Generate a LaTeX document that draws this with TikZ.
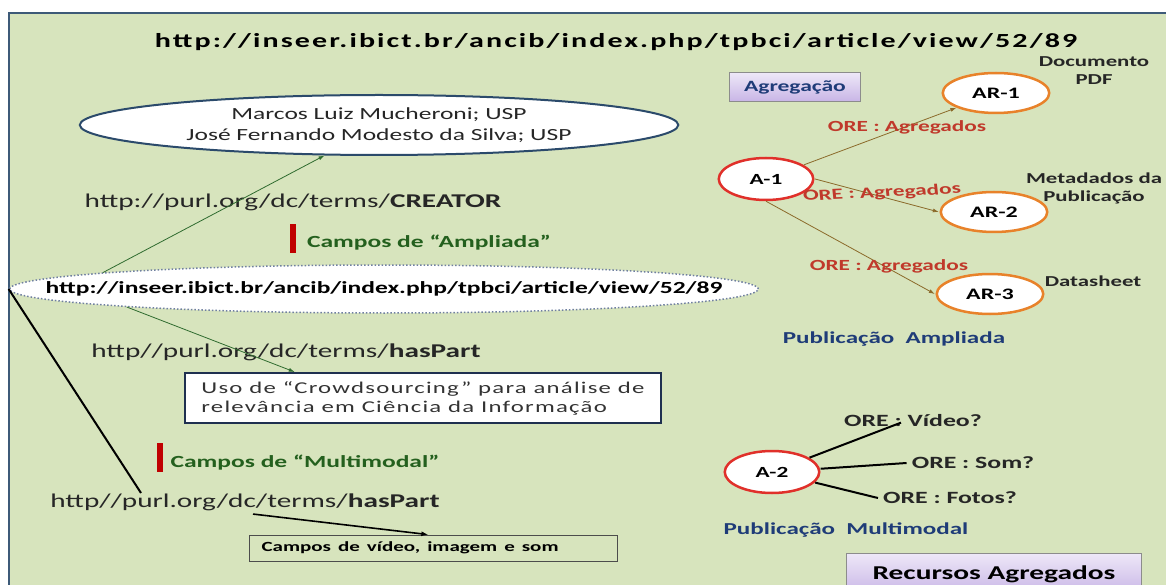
\documentclass[tikz,border=0pt]{standalone}
\usepackage{fontspec}
\setmainfont{Carlito}
\usetikzlibrary{shapes.geometric,arrows.meta}

\definecolor{fundo}{HTML}{D7E4BD}
\definecolor{moldura}{HTML}{3D5A78}
\definecolor{azulesc}{HTML}{2B4A6B}
\definecolor{pontilhado}{HTML}{7080A0}
\definecolor{verdeseta}{HTML}{2F6B2F}
\definecolor{barra}{HTML}{C00000}
\definecolor{verdetxt}{HTML}{24601E}
\definecolor{vermelho}{HTML}{E0302A}
\definecolor{laranja}{HTML}{E8822A}
\definecolor{marrom}{HTML}{8B6A2A}
\definecolor{orered}{HTML}{C0392B}
\definecolor{azultxt}{HTML}{1F3C78}
\definecolor{roxoA}{HTML}{EEE8F8}
\definecolor{roxoB}{HTML}{C8B5E6}
\definecolor{caixaborda}{HTML}{1F3050}

\tikzset{
  wide/.style={xscale=1.5},
  titulo/.style={wide, font=\bfseries\fontsize{20}{24}\selectfont\addfontfeature{LetterSpace=7}},
  autores/.style={wide, ellipse, draw=azulesc, line width=2pt, fill=white, minimum width=399pt, minimum height=60pt, inner sep=0pt, align=center, font=\fontsize{17}{21}\selectfont, text=black!85},
  rotulo/.style={wide, font=\fontsize{19.5}{23}\selectfont, text=black!85},
  campos/.style={wide, font=\bfseries\fontsize{17}{20}\selectfont, text=verdetxt},
  url/.style={wide, ellipse, draw=pontilhado, dotted, line width=1.5pt, fill=white, minimum width=499pt, minimum height=48pt, inner xsep=-55pt, inner ysep=2pt, font=\bfseries\fontsize{17}{20}\selectfont},
  caixa/.style={wide, draw=caixaborda, line width=2pt, fill=white, minimum width=317pt, minimum height=50pt, align=left, font=\fontsize{16.5}{19}\selectfont\addfontfeature{LetterSpace=5}, text=black!80},
  caixav/.style={wide, draw=black!70, line width=0.8pt, anchor=west, text width=229pt, inner xsep=8pt, inner ysep=3pt, minimum height=26pt, align=left, font=\bfseries\fontsize{14}{16}\selectfont},
  roxo/.style={wide, draw=black!45, line width=0.8pt, top color=roxoA, bottom color=roxoB, font=\bfseries\fontsize{15.7}{18}\selectfont},
  noA/.style={wide, ellipse, draw=vermelho, line width=2.5pt, fill=white, minimum width=63pt, minimum height=42pt, inner sep=0pt, font=\bfseries\fontsize{15.5}{18}\selectfont},
  noAR/.style={wide, ellipse, draw=laranja, line width=2.5pt, fill=white, minimum width=71pt, minimum height=40pt, inner sep=0pt, font=\bfseries\fontsize{16}{18}\selectfont},
  nota/.style={wide, align=center, font=\bfseries\fontsize{15.2}{18}\selectfont, text=black!85},
  ore/.style={wide, font=\bfseries\fontsize{15.5}{18}\selectfont, text=orered, inner sep=1pt},
  oreb/.style={wide, font=\bfseries\fontsize{17.2}{20}\selectfont, text=black!85},
  pub/.style={wide, font=\bfseries\fontsize{16.7}{19}\selectfont, text=azultxt},
  setaverde/.style={draw=verdeseta, line width=0.8pt, -{Latex[length=6pt,width=4pt]}},
  setamarrom/.style={draw=marrom, line width=0.8pt, -{Latex[length=6pt,width=4pt]}},
  setapreta/.style={draw=black, line width=1.6pt, -{Latex[length=7pt,width=5pt]}},
  linhapreta/.style={draw=black, line width=2pt}
}

\begin{document}
\begin{tikzpicture}[x=1pt,y=-1pt]
\useasboundingbox (0,0) rectangle (1166,585);
\fill[fundo] (9,13) rectangle (1166,585);
\draw[moldura, line width=2.5pt] (9,585) -- (9,13) -- (1166,13);

\node[titulo] (tit) at (616,42) {http://inseer.ibict.br/ancib/index.php/tpbci/article/view/52/89};

\node[autores] (aut) at (379,125) {Marcos Luiz Mucheroni; USP\\José Fernando Modesto da Silva; USP};
\node[rotulo] (creator) at (293,202) {http://purl.org/dc/terms/\textbf{CREATOR}};
\fill[barra] (290,224) rectangle (296,253);
\node[campos] (ampl) at (429,243) {Campos de “Ampliada”};

\node[url] (url) at (384,289) {http://inseer.ibict.br/ancib/index.php/tpbci/article/view/52/89};
\draw[setaverde] (url.175) -- (aut.220);

\node[rotulo] (partA) at (286,352) {http//purl.org/dc/terms/\textbf{hasPart}};
\node[caixa] (crowd) at (423,398) {Uso de “Crowdsourcing” para análise de\\relevância em Ciência da Informação};
\draw[setaverde] (url.186) -- ([xshift=111pt]crowd.north west);

\fill[barra] (157,443) rectangle (163,472);
\node[campos] (multi) at (305,463) {Campos de “Multimodal”};
\node[rotulo] (partB) at (245,502) {http//purl.org/dc/terms/\textbf{hasPart}};
\coordinate (fimB) at (141,493);
\draw[linhapreta] (url.west) -- (fimB);
\node[caixav] (video) at (249,548) {Campos de vídeo, imagem e som};
\draw[setapreta] ([xshift=8pt]partB.south) -- ([xshift=-5pt]video.north);

\node[roxo, minimum width=87pt, minimum height=29pt] (agreg) at (795,87) {\textcolor{azultxt}{Agregação}};
\node[noA] (a1) at (766,179) {A-1};
\node[noAR] (ar1) at (996,93) {AR-1};
\node[noAR] (ar2) at (994,212) {AR-2};
\node[noAR] (ar3) at (990,294) {AR-3};
\node[nota] (n1) at (1094,71) {Documento\\PDF};
\node[nota] (n2) at (1094,188) {Metadados da\\Publicação};
\node[nota] (n3) at (1093,281) {Datasheet};
\draw[setamarrom] (a1) -- (ar1);
\draw[setamarrom] (a1.east) -- (ar2.west);
\draw[setamarrom] (a1.south) -- (ar3.west);
\node[ore] (oreA) at (907,127) {ORE : Agregados};
\node[ore, rotate=4] (oreB) at (882,193) {ORE : Agregados};
\node[ore] (oreC) at (889,266) {ORE : Agregados};
\node[pub] (pubA) at (894,339) {Publicação\ \ Ampliada};

\node[noA] (a2) at (772,472) {A-2};
\node[oreb] (vid) at (913,421) {ORE : Vídeo?};
\node[oreb] (som) at (973,463) {ORE : Som?};
\node[oreb] (fot) at (950,498) {ORE : Fotos?};
\draw[linhapreta] (a2) -- ([xshift=-12pt,yshift=8pt]vid.south);
\draw[linhapreta] (a2) -- (som.west);
\draw[linhapreta] (a2) -- (fot.west);
\node[pub] (pubM) at (846,530) {Publicação\ \ Multimodal};
\node[roxo, minimum width=197pt, minimum height=42pt, font=\bfseries\fontsize{19.6}{23}\selectfont] (rec) at (994,574) {Recursos Agregados};
\end{tikzpicture}
\end{document}
